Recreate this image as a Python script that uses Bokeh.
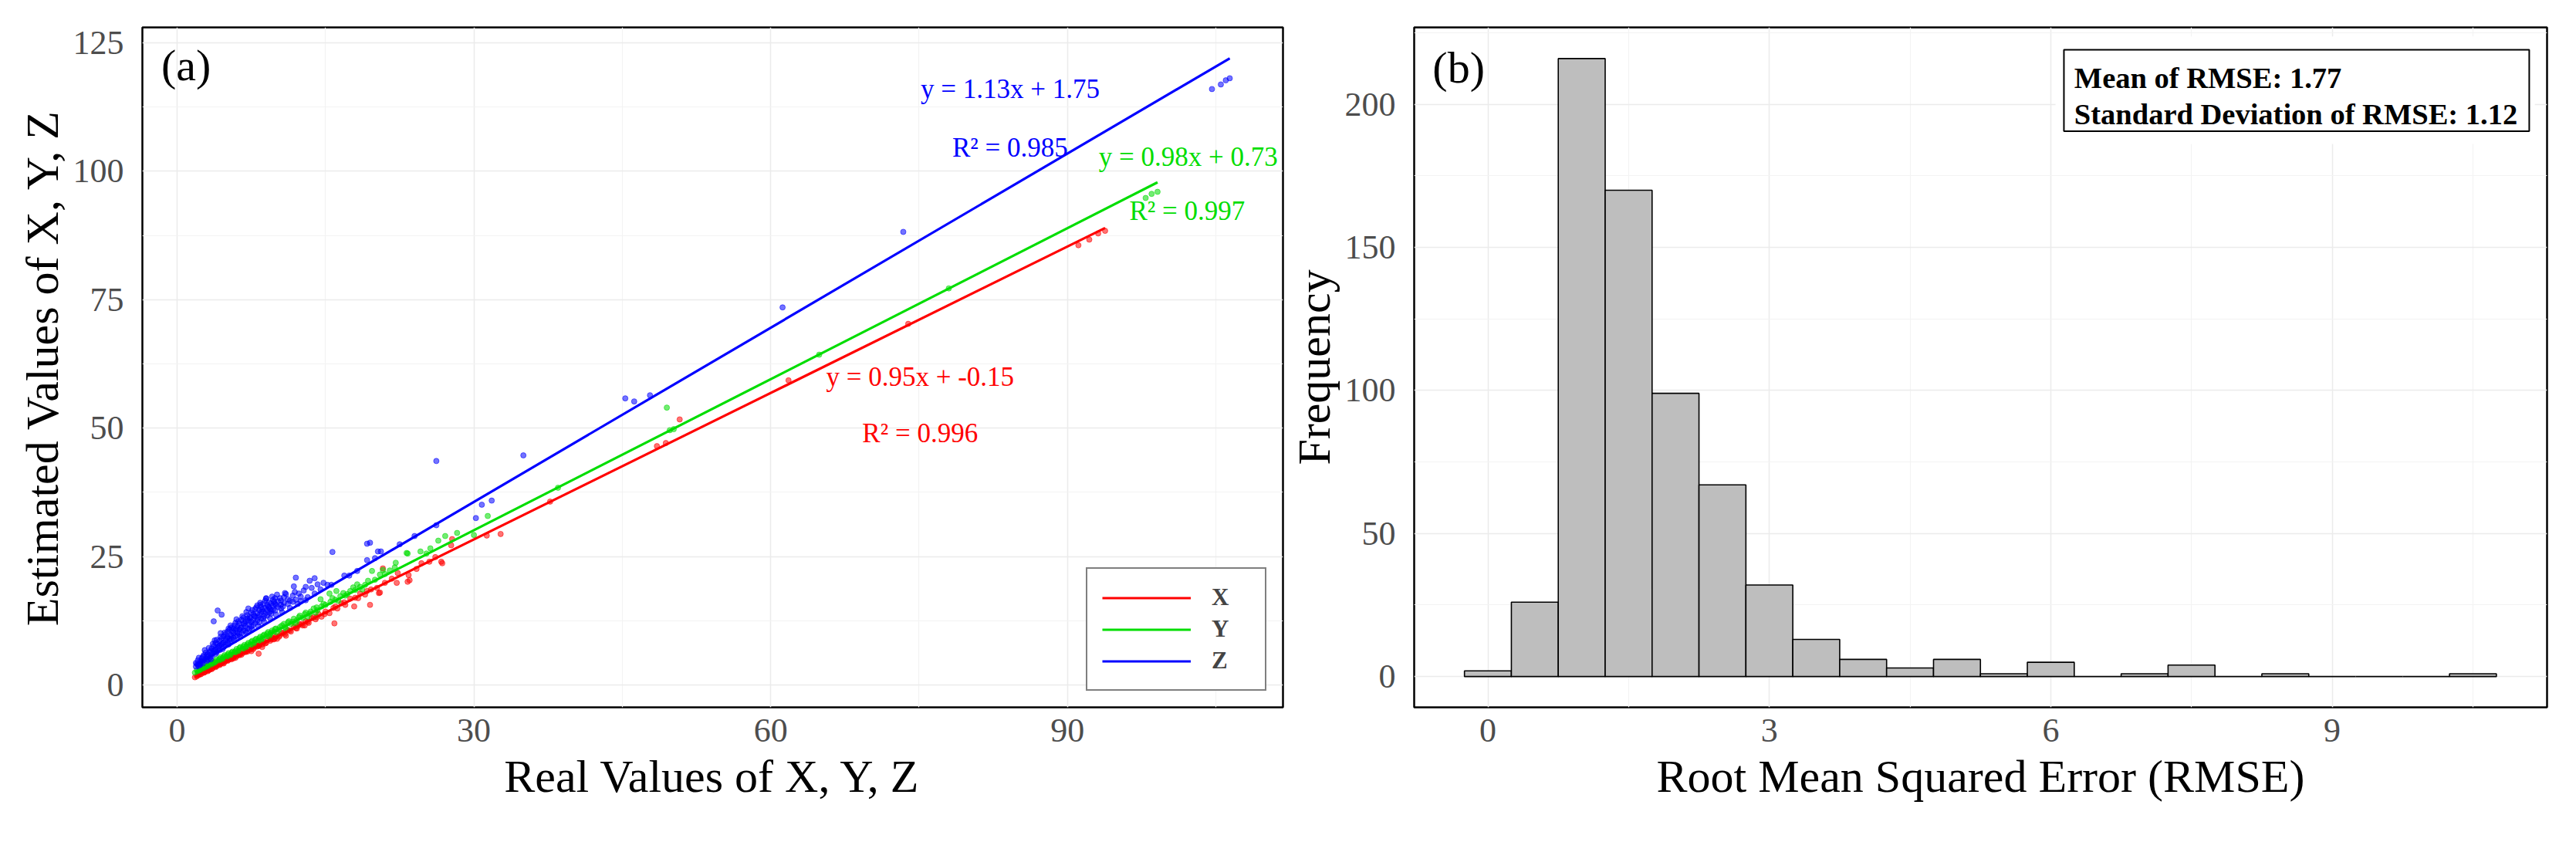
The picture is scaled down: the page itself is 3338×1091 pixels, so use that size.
from bokeh.plotting import figure
from bokeh.layouts import row
from bokeh.models import FixedTicker, Range1d, Label, Legend, LegendItem
from bokeh.embed import file_html
from bokeh.resources import INLINE

# ---------------- Panel (a) data: real vs estimated ----------------
x_real = [1.8, 2.0, 2.2, 2.4, 2.6, 2.8, 3.0, 3.2, 3.4, 3.6, 3.8, 4.0, 4.2, 4.4, 4.6, 4.8, 5.0, 5.2, 5.4, 5.6,
          5.8, 6.0, 6.2, 6.4, 6.6, 6.8, 7.0, 7.2, 7.4, 7.6, 7.8, 8.0, 8.2, 8.24, 8.4, 8.6, 8.8, 9.0, 9.2, 9.4,
          9.6, 9.8, 10.0, 10.3, 10.6, 10.9, 11.2, 11.5, 11.8, 12.1, 12.4, 12.7, 13.0, 13.3, 13.6, 14.0, 14.3,
          14.6, 15.0, 15.4, 15.8, 15.9, 16.2, 16.6, 17.0, 17.5, 17.9, 18.0, 18.5, 19.0, 19.5, 19.6, 20.2, 20.4,
          20.5, 20.8, 21.0, 21.7, 22.2, 22.3, 23.3, 23.4, 23.5, 24.2, 24.7, 25.5, 26.1, 26.7, 26.8, 27.7, 27.8,
          31.3, 32.7, 37.7, 48.5, 49.4, 50.8, 61.8, 73.9, 91.1, 92.2, 93.1, 93.8,
          2.1, 3.3, 4.5, 5.7, 6.9, 8.1, 9.5, 10.8, 12.2, 13.8, 11.0, 9.9, 7.5, 6.3,
          2.3, 2.7, 3.1, 3.5, 3.9, 4.3, 4.7, 5.1, 5.5, 5.9, 6.5, 7.1, 7.7, 8.3, 8.9, 9.7, 10.4, 11.4, 12.0,
          12.6, 13.2, 14.1, 14.9, 16.0, 16.9, 18.3, 19.2, 8.6, 10.1, 12.9]
x_est = [1.5, 1.7, 2.0, 2.1, 2.4, 2.5, 2.8, 2.9, 3.2, 3.3, 3.6, 3.7, 4.0, 4.1, 4.3, 4.5, 4.8, 4.9, 5.1, 5.3,
         5.6, 5.6, 5.9, 6.1, 6.2, 6.5, 6.6, 6.9, 6.9, 7.3, 7.3, 7.7, 7.6, 6.1, 8.0, 7.9, 8.4, 8.2, 8.8, 8.6,
         9.2, 8.9, 9.5, 9.4, 10.1, 9.9, 10.7, 10.4, 11.3, 11.0, 11.8, 11.6, 12.4, 12.1, 13.0, 12.8, 13.8,
         13.3, 14.3, 14.0, 15.0, 12.0, 14.9, 15.9, 15.6, 16.8, 15.3, 17.0, 17.8, 17.6, 15.6, 18.6, 18.9, 17.9,
         18.0, 22.7, 19.9, 20.7, 19.9, 21.8, 20.1, 21.4, 20.4, 22.6, 23.7, 24.0, 24.9, 24.0, 23.7, 27.2, 28.4,
         29.1, 29.4, 35.7, 46.5, 47.1, 51.7, 59.3, 70.3, 85.6, 86.7, 87.9, 88.4,
         1.9, 3.0, 4.3, 5.2, 6.4, 7.5, 8.9, 10.2, 11.5, 13.2, 9.6, 9.2, 6.6, 5.8,
         2.1, 2.4, 2.7, 3.1, 3.5, 3.9, 4.2, 4.7, 5.0, 5.3, 5.9, 6.5, 7.0, 7.7, 8.1, 8.9, 9.7, 10.6, 11.1,
         11.9, 12.3, 13.2, 13.8, 15.3, 16.1, 16.9, 18.3, 7.4, 9.0, 11.6]

y_real = [1.8, 2.0, 2.2, 2.4, 2.6, 2.8, 3.0, 3.2, 3.4, 3.6, 3.8, 4.0, 4.2, 4.4, 4.6, 4.8, 5.0, 5.2, 5.4, 5.6,
          5.8, 6.0, 6.2, 6.4, 6.6, 6.8, 7.0, 7.2, 7.4, 7.6, 7.8, 8.0, 8.2, 8.4, 8.6, 8.8, 9.0, 9.2, 9.4, 9.6,
          9.8, 10.0, 10.3, 10.6, 10.9, 11.2, 11.5, 11.8, 12.1, 12.4, 12.7, 13.0, 13.4, 13.8, 14.2, 14.5, 14.6,
          15.0, 15.4, 15.5, 16.0, 16.1, 16.5, 17.0, 17.5, 18.0, 18.5, 19.0, 19.7, 20.0, 20.8, 21.0, 22.0, 22.1,
          23.2, 23.3, 24.6, 25.2, 25.6, 26.4, 27.1, 28.3, 30.0, 31.4, 38.5, 49.5, 49.8, 50.2, 64.9, 78.0,
          97.9, 98.5, 99.1,
          2.1, 2.9, 3.7, 4.5, 5.3, 6.1, 6.9, 7.7, 8.5, 9.3, 10.1, 11.0, 12.0, 13.2, 14.0, 16.3, 17.2, 18.7,
          19.3, 20.5, 21.5,
          2.3, 2.7, 3.1, 3.5, 3.9, 4.3, 4.7, 5.1, 5.5, 5.9, 6.3, 6.7, 7.1, 7.5, 7.9, 8.3, 8.7, 9.1, 9.5, 9.9,
          10.4, 10.8, 11.3, 11.7, 12.3, 12.9, 13.5, 14.1, 14.8, 15.7, 16.8, 17.8, 18.2]
y_est = [2.4, 2.9, 2.7, 3.3, 3.1, 3.7, 3.6, 4.1, 3.9, 4.5, 4.4, 5.0, 4.8, 5.4, 5.2, 5.8, 5.6, 6.2, 5.9, 6.5,
         6.4, 7.0, 6.7, 7.4, 7.1, 7.8, 7.5, 8.2, 7.9, 8.6, 8.3, 9.0, 8.7, 9.4, 9.1, 9.8, 9.5, 10.3, 9.9, 10.6,
         10.4, 11.0, 10.8, 11.6, 11.3, 12.2, 11.9, 12.9, 12.6, 13.5, 13.1, 14.1, 13.9, 14.9, 14.6, 16.7, 15.3,
         15.6, 17.8, 16.2, 16.6, 18.3, 17.3, 17.4, 18.3, 18.5, 19.1, 19.5, 22.2, 20.5, 22.4, 21.6, 22.9, 23.8,
         25.7, 25.6, 26.0, 25.6, 26.6, 28.1, 29.0, 29.6, 29.2, 32.9, 38.4, 54.0, 49.6, 49.8, 64.3, 77.2,
         94.8, 95.6, 96.0,
         2.3, 3.2, 4.1, 4.9, 5.4, 6.3, 7.0, 7.8, 8.6, 9.4, 10.2, 11.0, 12.0, 13.3, 14.1, 16.4, 17.7, 18.6,
         20.3, 21.5, 22.3,
         2.9, 3.5, 3.7, 4.3, 4.6, 5.1, 5.5, 5.9, 6.3, 6.6, 7.2, 7.5, 7.9, 8.4, 8.8, 9.1, 9.6, 10.0, 10.2, 10.9,
         11.3, 11.9, 12.4, 12.3, 13.2, 13.8, 14.3, 15.1, 15.8, 16.9, 17.9, 19.0, 19.6]

z_real = [1.9, 1.9, 2.1, 2.1, 2.3, 2.3, 2.5, 2.5, 2.7, 2.7, 2.9, 2.9, 3.1, 3.1, 3.1, 3.3, 3.3, 3.5, 3.5, 3.5,
          3.7, 3.7, 3.7, 3.9, 3.9, 3.9, 4.1, 4.1, 4.1, 4.3, 4.3, 4.3, 4.5, 4.5, 4.5, 4.7, 4.7, 4.7, 4.9, 4.9,
          4.9, 5.1, 5.1, 5.1, 5.3, 5.3, 5.3, 5.5, 5.5, 5.5, 5.7, 5.7, 5.7, 5.9, 5.9, 5.9, 6.1, 6.1, 6.1, 6.3,
          6.3, 6.3, 6.5, 6.5, 6.5, 6.7, 6.7, 6.7, 6.9, 6.9, 6.9, 7.1, 7.1, 7.1, 7.3, 7.3, 7.3, 7.5, 7.5, 7.5,
          7.7, 7.7, 7.7, 7.9, 7.9, 7.9, 8.1, 8.1, 8.1, 8.3, 8.3, 8.3, 8.5, 8.5, 8.5, 8.7, 8.7, 8.7, 8.9, 8.9,
          8.9, 9.1, 9.1, 9.1, 9.3, 9.3, 9.3, 9.5, 9.5, 9.5, 9.7, 9.7, 9.7, 9.9, 9.9, 9.9, 10.2, 10.2, 10.5,
          10.5, 10.5, 10.8, 10.8, 11.2, 11.2, 11.7, 11.7, 12.0, 12.0, 12.5, 12.5, 13.0, 13.4, 13.9, 13.9, 14.5,
          15.2, 15.6, 15.7, 16.9, 17.4, 18.2, 19.2, 19.2, 19.5, 20.0, 20.3, 20.6, 22.5, 24.0, 26.2, 26.2, 30.2,
          30.8, 31.8, 35.0, 45.3, 46.2, 47.8, 61.2, 73.4, 104.6, 105.5, 106.0, 106.4,
          2.0, 2.2, 2.4, 2.6, 2.8, 3.0, 3.2, 3.4, 3.6, 3.8, 4.0, 4.2, 4.4, 4.6, 4.8, 5.0, 5.2, 5.4, 5.6, 5.8,
          6.0, 6.2, 6.4, 6.6, 6.8, 7.0, 7.2, 7.4, 7.6, 7.8, 8.0, 8.2, 8.4, 8.6, 8.8, 9.0, 9.2, 9.4, 9.6, 9.8,
          10.0, 10.1, 10.4, 10.7, 11.0, 11.4, 11.9, 12.3, 12.8, 13.2, 13.6, 14.2, 14.8,
          3.4, 4.0, 4.6, 5.2, 5.8, 6.4, 7.0, 7.6, 8.2, 8.8, 9.4, 10.0, 10.6, 11.4, 12.2, 13.0,
          2.6, 3.0, 2.2, 6.0, 7.2, 8.4, 5.4, 4.4, 3.8, 10.9, 9.0, 11.8]
z_est = [3.6, 4.3, 3.9, 4.8, 4.2, 3.9, 5.2, 4.5, 4.8, 5.8, 5.1, 6.3, 5.5, 6.0, 4.9, 6.4, 5.3, 6.0, 7.1, 5.6,
         6.6, 7.6, 12.4, 7.0, 6.1, 8.2, 7.3, 8.0, 14.5, 6.8, 8.6, 7.7, 7.9, 9.0, 13.7, 8.3, 7.4, 9.5, 8.8, 9.9,
         7.9, 8.2, 9.3, 10.4, 9.0, 10.8, 8.6, 9.6, 8.9, 11.2, 10.1, 9.2, 11.0, 9.5, 10.6, 12.1, 10.2, 11.4, 9.6,
         10.8, 12.0, 9.9, 11.2, 10.1, 12.7, 10.6, 11.9, 13.1, 11.5, 12.4, 10.5, 11.0, 12.9, 13.6, 11.8, 10.9,
         13.2, 12.3, 14.1, 11.4, 12.7, 11.7, 13.8, 13.3, 12.1, 14.8, 12.6, 14.0, 15.5, 13.6, 12.2, 14.6, 13.0,
         15.2, 14.2, 14.3, 12.9, 15.8, 13.9, 15.0, 16.4, 14.6, 13.5, 15.6, 15.1, 14.1, 16.1, 14.4, 15.9, 13.9,
         15.4, 16.6, 14.7, 15.8, 14.5, 16.9, 16.3, 15.2, 16.4, 15.6, 14.9, 16.0, 17.1, 16.7, 15.8, 16.2, 17.4,
         20.9, 16.6, 17.2, 16.3, 19.1, 20.3, 20.8, 17.8, 18.6, 19.5, 19.5, 25.9, 21.3, 21.3, 22.2, 27.5, 24.3,
         27.7, 24.7, 26.0, 26.0, 27.4, 29.0, 31.1, 43.6, 32.5, 35.1, 35.9, 44.7, 55.8, 55.2, 56.4, 73.5, 88.2,
         116.0, 116.9, 117.7, 118.1,
         4.1, 5.3, 4.7, 5.5, 6.8, 5.8, 7.2, 6.7, 8.0, 6.9, 8.8, 7.5, 9.4, 8.1, 10.2, 9.1, 11.0, 9.8, 10.5, 11.6,
         10.9, 12.4, 11.1, 13.4, 12.0, 14.2, 12.5, 13.0, 14.6, 13.5, 15.1, 13.2, 16.0, 14.7, 13.4, 16.8, 15.3,
         14.8, 17.2, 16.2, 15.6, 17.6, 16.9, 15.3, 17.7, 16.4, 18.1, 17.8, 18.4, 17.1, 18.9, 19.6, 19.9,
         5.0, 6.4, 7.0, 7.9, 8.7, 9.4, 10.2, 10.8, 11.5, 12.3, 13.0, 13.7, 14.2, 15.0, 15.8, 16.5,
         4.2, 4.7, 3.6, 12.8, 14.9, 15.6, 11.6, 10.1, 8.7, 17.9, 16.9, 19.2]

series_names = ["X", "Y", "Z"]
series_colors = ["#FF0000", "#00DD00", "#0000FF"]
fit_slopes = [0.95, 0.98, 1.13]
fit_intercepts = [-0.15, 0.73, 1.75]
eq_texts = ["y = 0.95x + -0.15", "y = 0.98x + 0.73", "y = 1.13x + 1.75"]
r2_texts = ["R\u00b2 = 0.996", "R\u00b2 = 0.997", "R\u00b2 = 0.985"]
eq_pos = [(75.1, 60.0), (102.2, 102.8), (84.2, 116.0)]
r2_pos = [(75.1, 49.0), (102.1, 92.2), (84.2, 104.5)]

a_xticks = [0, 30, 60, 90]
a_yticks = [0, 25, 50, 75, 100, 125]

# ---------------- Panel (b) data: RMSE histogram ----------------
bin_centers = [0.0, 0.5, 1.0, 1.5, 2.0, 2.5, 3.0, 3.5, 4.0, 4.5, 5.0, 5.5, 6.0, 6.5, 7.0, 7.5, 8.0, 8.5,
               9.0, 9.5, 10.0, 10.5]
bin_counts = [2, 26, 216, 170, 99, 67, 32, 13, 6, 3, 6, 1, 5, 0, 1, 4, 0, 1, 0, 0, 0, 1]
bin_width = 0.5
rmse_mean = 1.77
rmse_sd = 1.12
b_xticks = [0, 3, 6, 9]
b_yticks = [0, 50, 100, 150, 200]

FONT = "Liberation Serif"
GRID = "#EBEBEB"
MINOR = "#F3F3F3"
TICKC = "#4D4D4D"


def style(p, xt, xminor, yt, yminor, xlabel, ylabel):
    p.outline_line_color = "black"
    p.outline_line_width = 2.5
    p.xaxis.ticker = FixedTicker(ticks=xt, minor_ticks=xminor)
    p.yaxis.ticker = FixedTicker(ticks=yt, minor_ticks=yminor)
    for ax in (p.xaxis, p.yaxis):
        ax.axis_line_color = None
        ax.major_tick_line_color = None
        ax.minor_tick_line_color = None
        ax.major_tick_out = 0
        ax.major_tick_in = 0
        ax.major_label_text_font = FONT
        ax.major_label_text_font_size = "44px"
        ax.major_label_text_color = TICKC
        ax.axis_label_text_font = FONT
        ax.axis_label_text_font_size = "60px"
        ax.axis_label_text_font_style = "normal"
        ax.axis_label_text_color = "black"
    p.xaxis.major_label_standoff = 11
    p.yaxis.major_label_standoff = 20
    p.xaxis.axis_label_standoff = 9
    p.yaxis.axis_label_standoff = 4
    p.xaxis.axis_label = xlabel
    p.yaxis.axis_label = ylabel
    for g in (p.xgrid, p.ygrid):
        g.grid_line_color = GRID
        g.grid_line_width = 1.5
        g.minor_grid_line_color = MINOR
        g.minor_grid_line_width = 1.2


# ---------------- Figure (a) ----------------
p1 = figure(width=1666, height=1075, x_range=Range1d(-3.51, 111.78), y_range=Range1d(-4.34, 128.0),
            output_backend="svg", toolbar_location=None,
            min_border_left=184, min_border_right=4, min_border_top=35, min_border_bottom=156)
style(p1, a_xticks, [15, 45, 75, 105], a_yticks, [12.5, 37.5, 62.5, 87.5, 112.5],
      "Real Values of X, Y, Z", "Estimated Values of X, Y, Z")

reals = [x_real, y_real, z_real]
ests = [x_est, y_est, z_est]
for xs, ys, c in zip(reals, ests, series_colors):
    p1.scatter(xs, ys, size=7, fill_color=c, line_color=c, fill_alpha=0.55, line_alpha=0.55)

line_renderers = []
for xs, m, b, c in zip(reals, fit_slopes, fit_intercepts, series_colors):
    x0, x1 = min(xs), max(xs)
    r = p1.line([x0, x1], [m * x0 + b, m * x1 + b], line_color=c, line_width=3.2)
    line_renderers.append(r)

for (ex, ey), (rx, ry), et, rt, c in zip(eq_pos, r2_pos, eq_texts, r2_texts, series_colors):
    p1.add_layout(Label(x=ex, y=ey, text=et, text_color=c, text_font=FONT, text_font_size="35px",
                        text_align="center", text_baseline="middle"))
    p1.add_layout(Label(x=rx, y=ry, text=rt, text_color=c, text_font=FONT, text_font_size="35px",
                        text_align="center", text_baseline="middle"))

p1.add_layout(Label(x=-1.6, y=120.7, text="(a)", text_color="black", text_font=FONT,
                    text_font_size="58px", text_align="left", text_baseline="middle"))

legend = Legend(items=[LegendItem(label=n, renderers=[r]) for n, r in zip(series_names, line_renderers)],
                location="bottom_right", orientation="vertical")
legend.border_line_color = "black"
legend.border_line_width = 2
legend.background_fill_color = "white"
legend.background_fill_alpha = 1.0
legend.padding = 19
legend.spacing = 5
legend.margin = 21
legend.glyph_width = 115
legend.glyph_height = 33
legend.label_height = 33
legend.label_width = 50
legend.label_standoff = 27
legend.label_text_font = FONT
legend.label_text_font_style = "bold"
legend.label_text_font_size = "31px"
legend.label_text_baseline = "middle"
p1.add_layout(legend)

# ---------------- Figure (b) ----------------
p2 = figure(width=1656, height=1075, x_range=Range1d(-0.786, 11.29), y_range=Range1d(-10.75, 226.9),
            output_backend="svg", toolbar_location=None,
            min_border_left=158, min_border_right=22, min_border_top=32, min_border_bottom=159)
style(p2, b_xticks, [1.5, 4.5, 7.5, 10.5], b_yticks, [25, 75, 125, 175, 225],
      "Root Mean Squared Error (RMSE)", "Frequency")

lefts = [c - bin_width / 2 for c in bin_centers]
rights = [c + bin_width / 2 for c in bin_centers]
p2.quad(left=lefts, right=rights, bottom=0, top=bin_counts, fill_color="#BEBEBE",
        line_color="black", line_width=1.6)

# white backing and framed stats box
p2.quad(left=[6.05], right=[11.16], bottom=[186.2], top=[223.7], fill_color="white", line_color=None)
p2.quad(left=[6.14], right=[11.10], bottom=[190.6], top=[219.1], fill_color="white",
        line_color="black", line_width=2)
p2.add_layout(Label(x=6.25, y=209.1, text="Mean of RMSE: %.2f" % rmse_mean, text_font=FONT,
                    text_font_style="bold", text_font_size="38.5px", text_color="black",
                    text_align="left", text_baseline="alphabetic"))
p2.add_layout(Label(x=6.25, y=196.6, text="Standard Deviation of RMSE: %.2f" % rmse_sd, text_font=FONT,
                    text_font_style="bold", text_font_size="38.5px", text_color="black",
                    text_align="left", text_baseline="alphabetic"))
p2.add_layout(Label(x=-0.59, y=212.9, text="(b)", text_color="black", text_font=FONT,
                    text_font_size="58px", text_align="left", text_baseline="middle"))

layout = row(p1, p2)
open("out.html", "w").write(file_html(layout, INLINE))
